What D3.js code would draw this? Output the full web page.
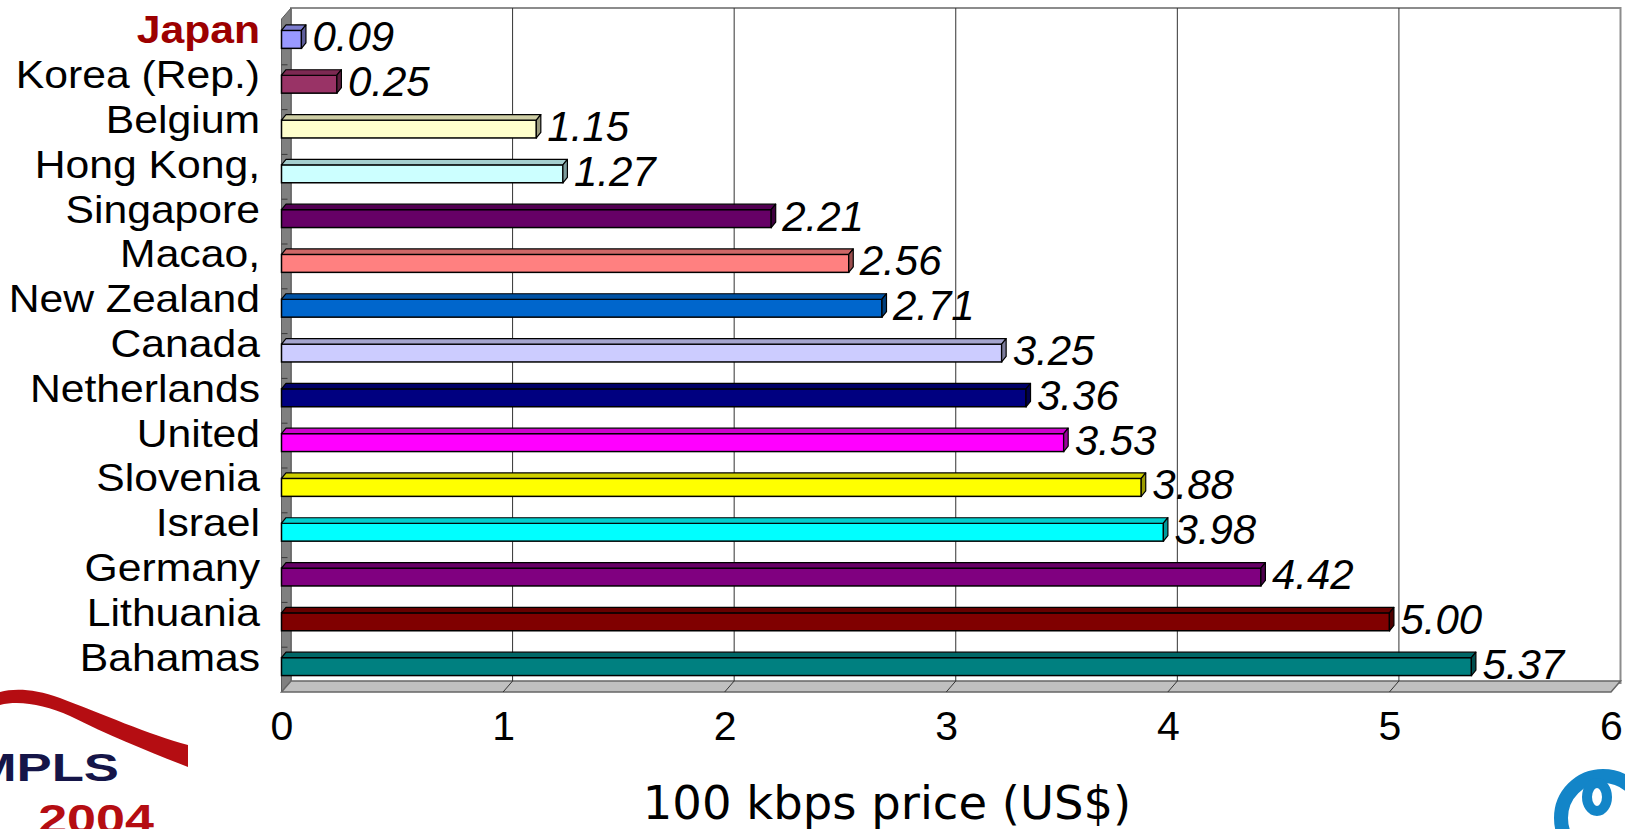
<!DOCTYPE html>
<html>
<head>
<meta charset="utf-8">
<script src="https://cdn.jsdelivr.net/npm/d3@7"></script>
<style>
  html, body { margin: 0; padding: 0; background: #ffffff; overflow: hidden; }
  svg { display: block; }
</style>
</head>
<body>
<svg id="chart" width="1625" height="829"></svg>
<script>
// ---- data ----
const categories = ["Japan", "Korea (Rep.)", "Belgium", "Hong Kong,", "Singapore", "Macao,", "New Zealand",
  "Canada", "Netherlands", "United", "Slovenia", "Israel", "Germany", "Lithuania", "Bahamas"];
const values = [0.09, 0.25, 1.15, 1.27, 2.21, 2.56, 2.71, 3.25, 3.36, 3.53, 3.88, 3.98, 4.42, 5.00, 5.37];
const barColors = ["#9999FF", "#993366", "#FFFFCC", "#CCFFFF", "#660066", "#FF8080", "#0066CC",
  "#CCCCFF", "#000080", "#FF00FF", "#FFFF00", "#00FFFF", "#800080", "#800000", "#008080"];
const xTicks = [0, 1, 2, 3, 4, 5, 6];
const xTitle = "100 kbps price (US$)";
const highlight = "Japan";

// ---- layout ----
const svg = d3.select("#chart");
const x = d3.scaleLinear().domain([0, 6]).range([281.5, 1611]);
const y = d3.scaleBand().domain(categories).range([17, 689]).paddingInner(0.6).paddingOuter(0.3);
const frontTop = 17, frontBottom = 692;
const DX = 9.5, DY = 11;       // wall depth
const bdx = 4.5, bdy = 5.5;    // bar depth

const g = svg.append("g");

// back wall
g.append("rect")
  .attr("x", x(0) + DX).attr("y", frontTop - DY + 2)
  .attr("width", x(6) - x(0)).attr("height", frontBottom - frontTop)
  .attr("fill", "#ffffff").attr("stroke", "#8c8c8c").attr("stroke-width", 2);

// side wall
g.append("path")
  .attr("d", `M${x(0)},${frontTop + 2}L${x(0) + DX},${frontTop - DY + 2}L${x(0) + DX},${frontBottom - DY}L${x(0)},${frontBottom}Z`)
  .attr("fill", "#808080").attr("stroke", "#5a5a5a").attr("stroke-width", 1);

// floor
g.append("path")
  .attr("d", `M${x(0)},${frontBottom}L${x(0) + DX},${frontBottom - DY}L${x(6) + DX},${frontBottom - DY}L${x(6)},${frontBottom}Z`)
  .attr("fill", "#c0c0c0").attr("stroke", "#666666").attr("stroke-width", 1.5);

// gridlines on back wall + floor
xTicks.filter(t => t > 0 && t < 6).forEach(t => {
  g.append("line")
    .attr("x1", x(t) + DX).attr("x2", x(t) + DX)
    .attr("y1", frontTop - DY + 2).attr("y2", frontBottom - DY)
    .attr("stroke", "#333333").attr("stroke-width", 1);
  g.append("line")
    .attr("x1", x(t) + DX).attr("x2", x(t))
    .attr("y1", frontBottom - DY).attr("y2", frontBottom)
    .attr("stroke", "#333333").attr("stroke-width", 1);
});

// side wall category ticks
const step = y.step();
d3.range(1, categories.length).forEach(i => {
  const yy = y.range()[0] + i * step + 3;
  g.append("line")
    .attr("x1", x(0)).attr("x2", x(0) + 6)
    .attr("y1", yy).attr("y2", yy)
    .attr("stroke", "#3a3a3a").attr("stroke-width", 1);
});

// bars
const data = categories.map((c, i) => ({ c, v: values[i], col: barColors[i] }));
const bars = g.append("g").selectAll("g").data(data).join("g");
bars.each(function(d) {
  const s = d3.select(this);
  const x0 = x(0), x1 = x(d.v);
  const yT = y(d.c), yB = y(d.c) + y.bandwidth();
  s.append("rect")
    .attr("x", x0).attr("y", yT).attr("width", x1 - x0).attr("height", yB - yT)
    .attr("fill", d.col).attr("stroke", "#000").attr("stroke-width", 1.5);
  s.append("path")
    .attr("d", `M${x0},${yT}L${x0 + bdx},${yT - bdy}L${x1 + bdx},${yT - bdy}L${x1},${yT}Z`)
    .attr("fill", d3.color(d.col).darker(0.6)).attr("stroke", "#000").attr("stroke-width", 1.2)
    .attr("stroke-linejoin", "round");
  s.append("path")
    .attr("d", `M${x1},${yT}L${x1 + bdx},${yT - bdy}L${x1 + bdx},${yB - bdy}L${x1},${yB}Z`)
    .attr("fill", d3.color(d.col).darker(1.4)).attr("stroke", "#000").attr("stroke-width", 1.2)
    .attr("stroke-linejoin", "round");
  s.append("text")
    .attr("x", x1 + 11).attr("y", y(d.c) + y.bandwidth() / 2 + 12)
    .attr("font-family", "Liberation Sans, Arial, sans-serif")
    .attr("font-style", "italic").attr("font-size", 42).attr("fill", "#000")
    .text(d.v.toFixed(2));
});

// category labels
g.append("g").selectAll("text").data(categories).join("text")
  .attr("transform", d => `translate(260,${y(d) + y.bandwidth() / 2 + 4}) scale(1.08,1)`)
  .attr("text-anchor", "end")
  .attr("font-family", "Liberation Sans, Arial, sans-serif")
  .attr("font-size", 39.5)
  .attr("font-weight", d => d === highlight ? "bold" : "normal")
  .attr("fill", d => d === highlight ? "#9c0000" : "#000")
  .text(d => d);

// x axis tick labels
const axis = g.append("g").attr("transform", "translate(0,740)")
  .call(d3.axisBottom(x).tickValues(xTicks).tickSize(0).tickPadding(0).tickFormat(d3.format("d")));
axis.select(".domain").remove();
axis.selectAll("text")
  .attr("y", 0).attr("dy", 0)
  .attr("font-family", "Liberation Sans, Arial, sans-serif")
  .attr("font-size", 41).attr("fill", "#000");

// axis title
g.append("text")
  .attr("x", 887).attr("y", 819)
  .attr("text-anchor", "middle")
  .attr("font-family", "DejaVu Sans, Verdana, sans-serif")
  .attr("font-size", 46.5).attr("fill", "#000")
  .text(xTitle);

// ---- logos ----
const logo = svg.append("g");
logo.append("path")
  .attr("d", "M0,692 C15,688 35,689 60,698 C100,713 150,735 188,745 L188,767 C150,752 110,736 70,716 C45,705 20,700 0,705 Z")
  .attr("fill", "#b50d12");
logo.append("text")
  .attr("transform", "translate(119,781) scale(1.35,1)")
  .attr("text-anchor", "end")
  .attr("font-family", "Liberation Sans, Arial, sans-serif")
  .attr("font-weight", "bold").attr("font-size", 39).attr("fill", "#151548")
  .text("MPLS");
logo.append("text")
  .attr("transform", "translate(154,833) scale(1.27,1)")
  .attr("text-anchor", "end")
  .attr("font-family", "Liberation Sans, Arial, sans-serif")
  .attr("font-weight", "bold").attr("font-size", 41).attr("fill", "#b50d12")
  .text("2004");

const blue = svg.append("g").attr("fill", "none").attr("stroke", "#1385c8");
blue.append("ellipse").attr("cx", 1603).attr("cy", 818).attr("rx", 42).attr("ry", 42).attr("stroke-width", 14);
blue.append("ellipse").attr("cx", 1597).attr("cy", 797).attr("rx", 10).attr("ry", 14).attr("stroke-width", 10);
</script>
</body>
</html>
